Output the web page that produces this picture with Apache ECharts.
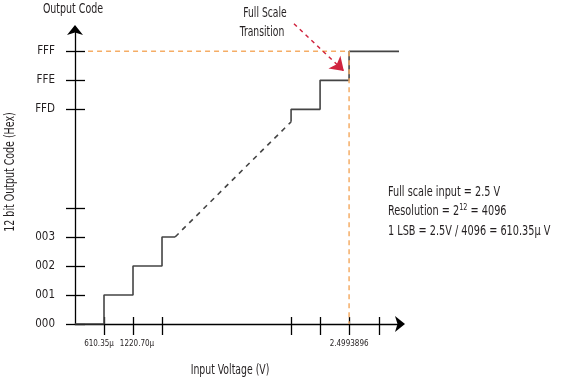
<!DOCTYPE html>
<html><head><meta charset="utf-8">
<script src="https://cdn.jsdelivr.net/npm/echarts@6/dist/echarts.min.js"></script>
<style>html,body{margin:0;padding:0;background:#fff}#c{width:561px;height:386px}</style>
</head><body><div id="c"></div>
<script>
// Schematic units: one step = 1 LSB on both axes (axis break between code 004 and FFD)
const yTickValues = [0, 1, 2, 3, 4, 7.4, 8.4, 9.4];
const yTickLabels = ['000', '001', '002', '003', '', 'FFD', 'FFE', 'FFF'];
const xTickValues = [1, 2, 3, 7.45, 8.45, 9.45, 10.5];
const xTickLabels = ['610.35µ', '1220.70µ', '', '', '', '2.4993896', ''];
const lowerSteps = [[0, 0], [1, 0], [1, 1], [2, 1], [2, 2], [3, 2], [3, 3], [3.45, 3]];
const brokenSegment = [[3.45, 3], [7.45, 6.97]];
const upperSteps = [[7.45, 6.97], [7.45, 7.4], [8.45, 7.4], [8.45, 8.4], [9.45, 8.4], [9.45, 9.4], [11.17, 9.4]];
const fullScaleGuide = [[0.45, 9.4], [9.45, 9.4], [9.45, 0]];
const transitionArrow = [[7.55, 10.35], [9.27, 8.72]];

const FONT = '"DejaVu Sans Condensed","DejaVu Sans",sans-serif';
const TXT = '#231f20';
const chart = echarts.init(document.getElementById('c'));
const labelMap = {};
xTickValues.forEach((v, i) => labelMap['x' + v] = { text: xTickLabels[i], idx: i });
yTickValues.forEach((v, i) => labelMap['y' + v] = yTickLabels[i]);

const axisBase = (max) => ({ type: 'value', min: 0, max: max, splitLine: { show: false } });
const tickStyle = { color: '#000', width: 1.3 };
const lblFont = { fontFamily: FONT, fontSize: 8, color: TXT };
const xLabel = (vals) => ({ show: true, customValues: vals, margin: 16, hideOverlap: false, fontFamily: FONT, fontSize: 8, color: TXT,
  rich: {
    l: Object.assign({ padding: [0, 10, 0, 0] }, lblFont),
    r: Object.assign({ padding: [0, 0, 0, 8] }, lblFont),
    n: lblFont
  },
  formatter: v => {
    const m = labelMap['x' + v];
    if (!m || !m.text) return '';
    const k = m.idx === 0 ? 'l' : (m.idx === 1 ? 'r' : 'n');
    return '{' + k + '|' + m.text + '}';
  } });
const txt = (text, x, y, size, sx, extra) => Object.assign({ type: 'text', x: x, y: y, scaleX: sx,
  style: { text: text, fontFamily: FONT, fontSize: size, fill: TXT, align: 'center', verticalAlign: 'middle' } }, extra || {});

chart.setOption({
  animation: false,
  grid: { left: 75, top: 29, right: 160, bottom: 62, containLabel: false },
  xAxis: [
    Object.assign(axisBase(11.24), {
      position: 'bottom',
      axisLine: { show: true, symbol: ['none', 'arrow'], symbolSize: [12, 10], symbolOffset: [0, 4], lineStyle: tickStyle },
      axisTick: { show: true, customValues: xTickValues, length: 11, inside: false, lineStyle: tickStyle },
      axisLabel: xLabel(xTickValues.slice(1))
    }),
    Object.assign(axisBase(11.24), {
      position: 'bottom',
      axisLine: { show: false },
      axisTick: { show: true, customValues: xTickValues, length: 7, inside: true, lineStyle: tickStyle },
      axisLabel: xLabel(xTickValues.slice(0, 1))
    })
  ],
  yAxis: [
    Object.assign(axisBase(10.17), {
      position: 'left',
      axisLine: { show: true, symbol: ['none', 'arrow'], symbolSize: [12, 10], symbolOffset: [0, 4], lineStyle: tickStyle },
      axisTick: { show: true, customValues: yTickValues, length: 9, inside: false, lineStyle: tickStyle },
      axisLabel: { show: true, customValues: yTickValues, margin: 20, hideOverlap: false, fontFamily: FONT, fontSize: 11.5, color: TXT,
        formatter: v => labelMap['y' + v] || '' }
    }),
    Object.assign(axisBase(10.17), {
      position: 'left',
      axisLine: { show: false },
      axisTick: { show: true, customValues: yTickValues, length: 10, inside: true, lineStyle: tickStyle },
      axisLabel: { show: false }
    })
  ],
  series: [
    { type: 'line', data: lowerSteps, symbol: 'none', lineStyle: { color: '#444', width: 1.6 }, z: 3 },
    { type: 'line', data: brokenSegment, symbol: 'none', lineStyle: { color: '#444', width: 1.6, type: [5, 5] }, z: 3 },
    { type: 'line', data: upperSteps, symbol: 'none', lineStyle: { color: '#444', width: 1.6 }, z: 3 },
    { type: 'line', data: fullScaleGuide, symbol: 'none', lineStyle: { color: '#f5ad66', width: 1.5, type: [5, 4] }, z: 4 },
    { type: 'lines', coordinateSystem: 'cartesian2d', clip: false, silent: true, z: 5,
      symbol: ['none', 'arrow'], symbolSize: [11, 13],
      lineStyle: { color: '#d0243f', width: 1.5, type: [4, 4], opacity: 1 },
      data: [{ coords: transitionArrow }] }
  ],
  graphic: [
    txt('Output Code', 73, 9, 13.5, 0.78),
    txt('Full Scale', 265, 13, 13.5, 0.76),
    txt('Transition', 262, 32, 13.5, 0.76),
    txt('12 bit Output Code (Hex)', 10, 172, 13.5, 0.78, { rotation: Math.PI / 2 }),
    txt('Input Voltage (V)', 230, 370, 14, 0.74),
    { type: 'text', x: 388, y: 192, scaleX: 0.8, style: { text: 'Full scale input = 2.5 V', fontFamily: FONT, fontSize: 13.5, fill: TXT, verticalAlign: 'middle' } },
    { type: 'text', x: 388, y: 211, scaleX: 0.8, style: { text: '{a|Resolution = 2}{s|12}{a| = 4096}', fontFamily: FONT, fontSize: 13.5, fill: TXT, verticalAlign: 'middle',
      rich: { a: { fontFamily: FONT, fontSize: 13.5, fill: TXT }, s: { fontFamily: FONT, fontSize: 9, fill: TXT, verticalAlign: 'top', padding: [0, 0, 6, 0] } } } },
    { type: 'text', x: 388, y: 231, scaleX: 0.8, style: { text: '1 LSB = 2.5V / 4096 = 610.35µ V', fontFamily: FONT, fontSize: 13.5, fill: TXT, verticalAlign: 'middle' } }
  ]
});
</script></body></html>
